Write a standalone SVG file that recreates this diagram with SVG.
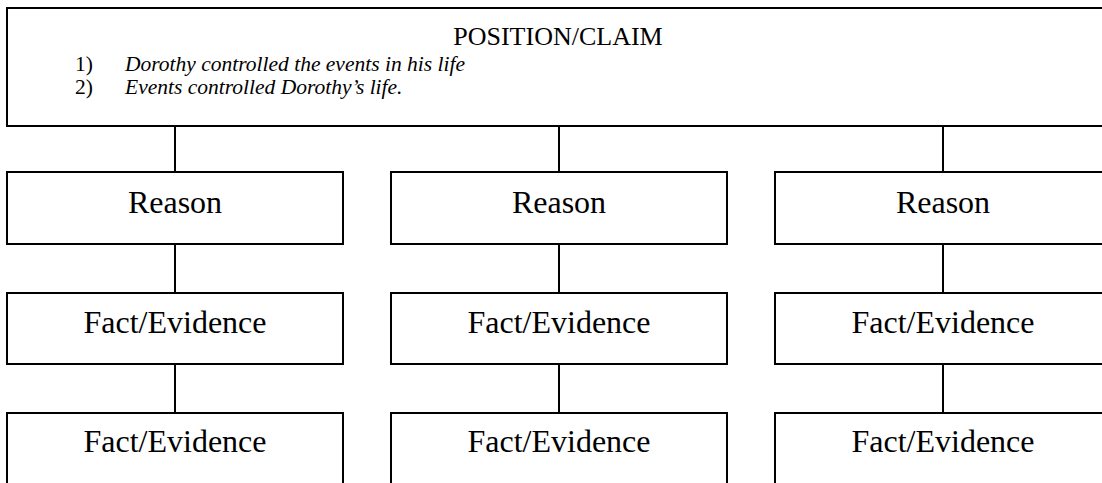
<svg xmlns="http://www.w3.org/2000/svg" width="1102" height="483" viewBox="0 0 1102 483">
<style>
.box{fill:#fff;stroke:#000;stroke-width:2}
.lbl{font-family:"Liberation Serif","Times New Roman",serif;font-size:32px;fill:#000;text-anchor:middle}
.hd{font-family:"Liberation Serif","Times New Roman",serif;font-size:26px;fill:#000}
.item{font-family:"Liberation Serif","Times New Roman",serif;font-size:21.5px;fill:#000}
.it{font-style:italic}
.conn line{stroke:#000;stroke-width:2}
</style>
<rect width="1102" height="483" fill="#fff"/>
<g class="conn">
<line x1="175" y1="126" x2="175" y2="172"/>
<line x1="559" y1="126" x2="559" y2="172"/>
<line x1="943" y1="126" x2="943" y2="172"/>
<line x1="175" y1="244" x2="175" y2="293"/>
<line x1="559" y1="244" x2="559" y2="293"/>
<line x1="943" y1="244" x2="943" y2="293"/>
<line x1="175" y1="364" x2="175" y2="413"/>
<line x1="559" y1="364" x2="559" y2="413"/>
<line x1="943" y1="364" x2="943" y2="413"/>
</g>
<g id="claim">
<rect class="box" x="7" y="8" width="1110" height="118"/>
<text class="hd" x="558" y="45" text-anchor="middle">POSITION/CLAIM</text>
<text class="item" x="75" y="71">1)</text>
<text class="item it" x="125" y="71">Dorothy controlled the events in his life</text>
<text class="item" x="75" y="94">2)</text>
<text class="item it" x="125" y="94">Events controlled Dorothy’s life.</text>
</g>
<g id="reason1"><rect class="box" x="7" y="172" width="336" height="72"/><text class="lbl" x="175" y="213">Reason</text></g>
<g id="reason2"><rect class="box" x="391" y="172" width="336" height="72"/><text class="lbl" x="559" y="213">Reason</text></g>
<g id="reason3"><rect class="box" x="775" y="172" width="336" height="72"/><text class="lbl" x="943" y="213">Reason</text></g>
<g id="fact1a"><rect class="box" x="7" y="293" width="336" height="71"/><text class="lbl" x="175" y="333">Fact/Evidence</text></g>
<g id="fact2a"><rect class="box" x="391" y="293" width="336" height="71"/><text class="lbl" x="559" y="333">Fact/Evidence</text></g>
<g id="fact3a"><rect class="box" x="775" y="293" width="336" height="71"/><text class="lbl" x="943" y="333">Fact/Evidence</text></g>
<g id="fact1b"><rect class="box" x="7" y="413" width="336" height="80"/><text class="lbl" x="175" y="452">Fact/Evidence</text></g>
<g id="fact2b"><rect class="box" x="391" y="413" width="336" height="80"/><text class="lbl" x="559" y="452">Fact/Evidence</text></g>
<g id="fact3b"><rect class="box" x="775" y="413" width="336" height="80"/><text class="lbl" x="943" y="452">Fact/Evidence</text></g>
</svg>
